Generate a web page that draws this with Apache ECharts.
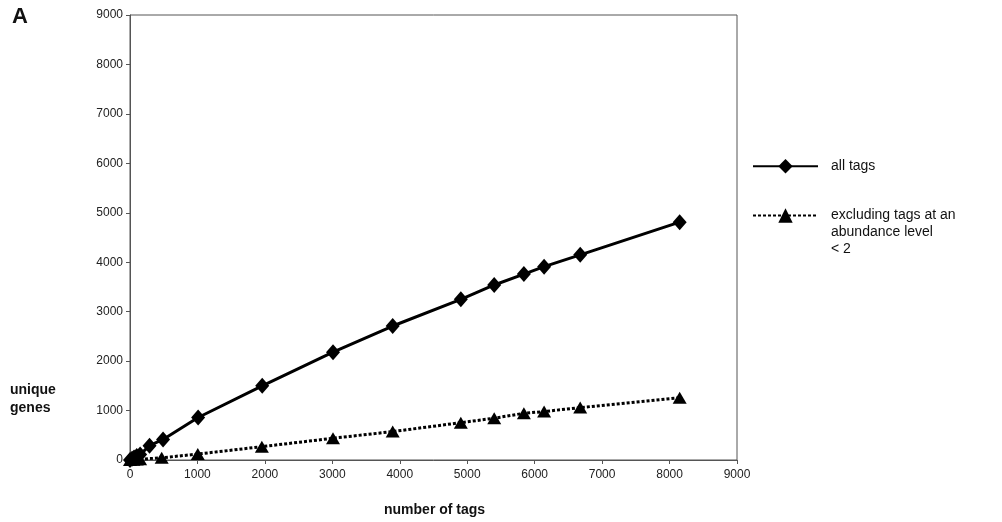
<!DOCTYPE html>
<html>
<head>
<meta charset="utf-8">
<script src="https://cdn.jsdelivr.net/npm/echarts@6/dist/echarts.min.js"></script>
<style>html,body{margin:0;padding:0;background:#fff}#c{width:1002px;height:522px}</style>
</head>
<body>
<div id="c"></div>
<script>
// Data
const allTagsX = [0, 30, 60, 100, 150, 290, 490, 1010, 1960, 3010, 3895, 4905, 5400, 5840, 6140, 6675, 8150];
const allTagsY = [0, 25, 50, 80, 110, 290, 415, 860, 1500, 2180, 2710, 3250, 3540, 3760, 3910, 4150, 4810];
const exclX = [0, 50, 100, 150, 470, 1005, 1955, 3010, 3895, 4905, 5400, 5840, 6140, 6675, 8150];
const exclY = [0, 5, 10, 15, 45, 120, 270, 440, 575, 755, 845, 945, 980, 1060, 1260];
const seriesNames = ['all tags', 'excluding tags at an\nabundance level\n< 2'];
const xTitle = 'number of tags';
const yTitle = 'unique\ngenes';
const panelLabel = 'A';

const FONT = '"Liberation Sans", Arial, sans-serif';
const chart = echarts.init(document.getElementById('c'));
const zip = (xs, ys) => xs.map((x, i) => [x, ys[i]]);
const plain = v => String(v);

chart.setOption({
  animation: false,
  backgroundColor: '#fff',
  textStyle: { fontFamily: FONT },
  grid: { left: 130, right: 265, top: 15, bottom: 62, show: true, borderColor: '#555', borderWidth: 1 },
  xAxis: {
    type: 'value', min: 0, max: 9000, interval: 1000,
    axisLine: { show: true, lineStyle: { color: '#555', width: 1 } },
    axisTick: { show: true, length: 4, lineStyle: { color: '#555' } },
    axisLabel: { color: '#222', fontSize: 12, margin: 9, fontFamily: FONT, formatter: plain },
    splitLine: { show: false }
  },
  yAxis: {
    type: 'value', min: 0, max: 9000, interval: 1000,
    axisLine: { show: true, lineStyle: { color: '#555', width: 1 } },
    axisTick: { show: true, length: 4, lineStyle: { color: '#555' } },
    axisLabel: { color: '#222', fontSize: 12, margin: 7, fontFamily: FONT, formatter: plain },
    splitLine: { show: false }
  },
  legend: [
    {
      data: [seriesNames[0]], left: 752, top: 159, padding: 0, orient: 'vertical',
      itemWidth: 65, itemHeight: 18, itemGap: 0,
      textStyle: { fontSize: 14, color: '#111', fontFamily: FONT, padding: [0, 0, 0, 8] }
    },
    {
      data: [seriesNames[1]], left: 752, top: 173, padding: 0, orient: 'vertical',
      itemWidth: 65, itemHeight: 18, itemGap: 0,
      formatter: n => '\n\n' + n,
      textStyle: { fontSize: 14, color: '#111', fontFamily: FONT, lineHeight: 17, padding: [0, 0, 0, 8] }
    }
  ],
  graphic: [
    { type: 'text', left: 12, top: 6, style: { text: panelLabel, font: 'bold 22px ' + FONT, fill: '#111' } },
    { type: 'text', left: 10, top: 381, style: { text: yTitle, font: 'bold 14px ' + FONT, fill: '#111', lineHeight: 18 } },
    { type: 'text', left: 384, top: 503, style: { text: xTitle, font: 'bold 14px ' + FONT, fill: '#111' } }
  ],
  series: [
    {
      name: seriesNames[0], type: 'line', data: zip(allTagsX, allTagsY),
      symbol: 'diamond', symbolSize: [14, 16],
      itemStyle: { color: '#000' },
      lineStyle: { color: '#000', width: 3, type: 'solid' }
    },
    {
      name: seriesNames[1], type: 'line', data: zip(exclX, exclY),
      symbol: 'triangle', symbolSize: [14, 12],
      itemStyle: { color: '#000' },
      lineStyle: { color: '#000', width: 3, type: [3, 2] }
    }
  ]
});
</script>
</body>
</html>
